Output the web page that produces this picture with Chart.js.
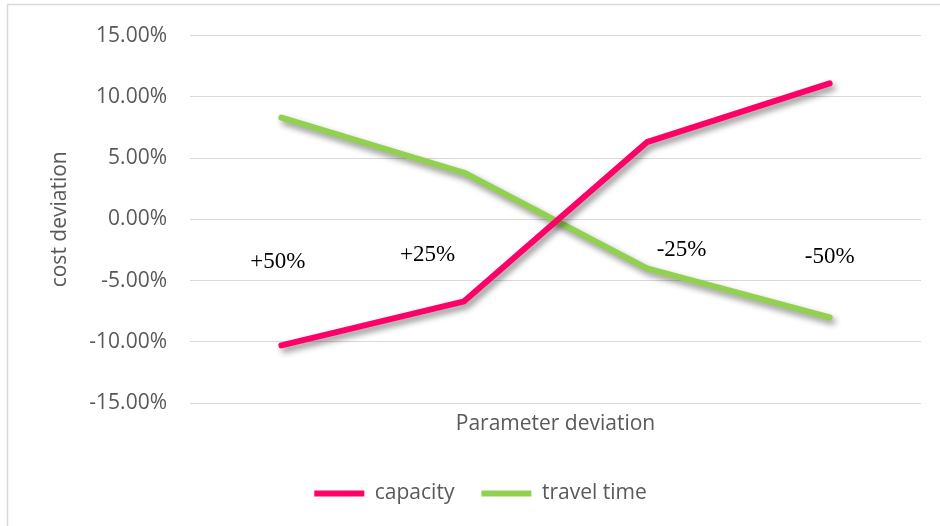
<!DOCTYPE html>
<html>
<head>
<meta charset="utf-8">
<script src="https://cdn.jsdelivr.net/npm/chart.js@4.4.1/dist/chart.umd.min.js"></script>
<style>
  html, body { margin: 0; padding: 0; background: #ffffff; }
  #wrap { width: 940px; height: 526px; }
</style>
</head>
<body>
<div id="wrap"><canvas id="chart" width="940" height="526"></canvas></div>
<script>
// Sensitivity of total cost to parameter changes (values in %)
const categories = ['+50%', '+25%', '-25%', '-50%'];
const capacity = [-10.3, -6.7, 6.3, 11.1];
const travelTime = [8.3, 3.8, -4.0, -8.0];
const yTickMin = -15;
const yTickMax = 15;
const yTickStep = 5;

// Where each category caption sits: shift in category widths, height in axis units
const captionShift = [-0.02, -0.2, 0.19, 0.0];
const captionLevel = [-3.45, -2.95, -2.5, -3.1];

const GREY_TEXT = '#595959';
const UI_FONT = "'Open Sans', sans-serif";
const UI_SIZE = 21;

const frame = {
  id: 'frame',
  beforeDraw(chart) {
    const c = chart.ctx;
    c.save();
    c.fillStyle = '#ffffff';
    c.fillRect(0, 0, chart.width, chart.height);
    c.strokeStyle = '#d9d9d9';
    c.lineWidth = 1.5;
    c.strokeRect(7.5, 4.5, chart.width + 10, chart.height + 10);
    c.restore();
  }
};

const lineShadow = {
  id: 'lineShadow',
  beforeDatasetDraw(chart) {
    const c = chart.ctx;
    c.save();
    c.shadowColor = 'rgba(0,0,0,0.45)';
    c.shadowBlur = 6;
    c.shadowOffsetX = 3;
    c.shadowOffsetY = 4;
  },
  afterDatasetDraw(chart) {
    chart.ctx.restore();
  }
};

const categoryCaptions = {
  id: 'categoryCaptions',
  afterDatasetsDraw(chart) {
    const c = chart.ctx;
    const xs = chart.scales.x;
    const ys = chart.scales.y;
    const step = xs.getPixelForValue(1) - xs.getPixelForValue(0);
    c.save();
    c.font = "23px 'Liberation Serif', 'Times New Roman', serif";
    c.fillStyle = '#000000';
    c.textAlign = 'center';
    c.textBaseline = 'middle';
    categories.forEach((label, i) => {
      const x = xs.getPixelForValue(i) + captionShift[i] * step;
      const y = ys.getPixelForValue(captionLevel[i]);
      c.fillText(label, x, y);
    });
    c.restore();
  }
};

new Chart(document.getElementById('chart'), {
  type: 'line',
  data: {
    labels: categories,
    datasets: [
      {
        label: 'capacity',
        data: capacity,
        borderColor: '#ff0066',
        backgroundColor: '#ff0066',
        borderWidth: 6,
        borderCapStyle: 'round',
        borderJoinStyle: 'round',
        pointRadius: 0,
        pointHoverRadius: 0,
        tension: 0,
        fill: false
      },
      {
        label: 'travel time',
        data: travelTime,
        borderColor: '#92d050',
        backgroundColor: '#92d050',
        borderWidth: 6,
        borderCapStyle: 'round',
        borderJoinStyle: 'round',
        pointRadius: 0,
        pointHoverRadius: 0,
        tension: 0,
        fill: false
      }
    ]
  },
  options: {
    responsive: false,
    animation: false,
    devicePixelRatio: 1,
    layout: { padding: { left: 40, right: 19, top: 33, bottom: 12 } },
    plugins: {
      tooltip: { enabled: false },
      legend: {
        position: 'bottom',
        align: 'center',
        labels: {
          usePointStyle: true,
          pointStyle: 'line',
          pointStyleWidth: 50,
          padding: 27,
          color: GREY_TEXT,
          font: { family: UI_FONT, size: UI_SIZE }
        }
      }
    },
    scales: {
      x: {
        type: 'category',
        offset: true,
        grid: { display: false, drawTicks: false },
        border: { display: false },
        ticks: { display: false },
        title: {
          display: true,
          text: 'Parameter deviation',
          color: GREY_TEXT,
          font: { family: UI_FONT, size: UI_SIZE },
          padding: { top: 0, bottom: 19 }
        },
        afterFit(scale) { scale.height = 53; }
      },
      y: {
        min: yTickMin,
        max: yTickMax,
        grid: { color: '#d9d9d9', lineWidth: 1, drawTicks: false },
        border: { display: false },
        ticks: {
          stepSize: yTickStep,
          padding: 23,
          color: GREY_TEXT,
          font: { family: UI_FONT, size: UI_SIZE },
          callback: (v) => v.toFixed(2) + '%'
        },
        title: {
          display: true,
          text: 'cost deviation',
          color: GREY_TEXT,
          font: { family: UI_FONT, size: UI_SIZE },
          padding: { top: 7, bottom: 0 }
        },
        afterFit(scale) { scale.width = 150; }
      }
    }
  },
  plugins: [frame, lineShadow, categoryCaptions]
});
</script>
</body>
</html>
